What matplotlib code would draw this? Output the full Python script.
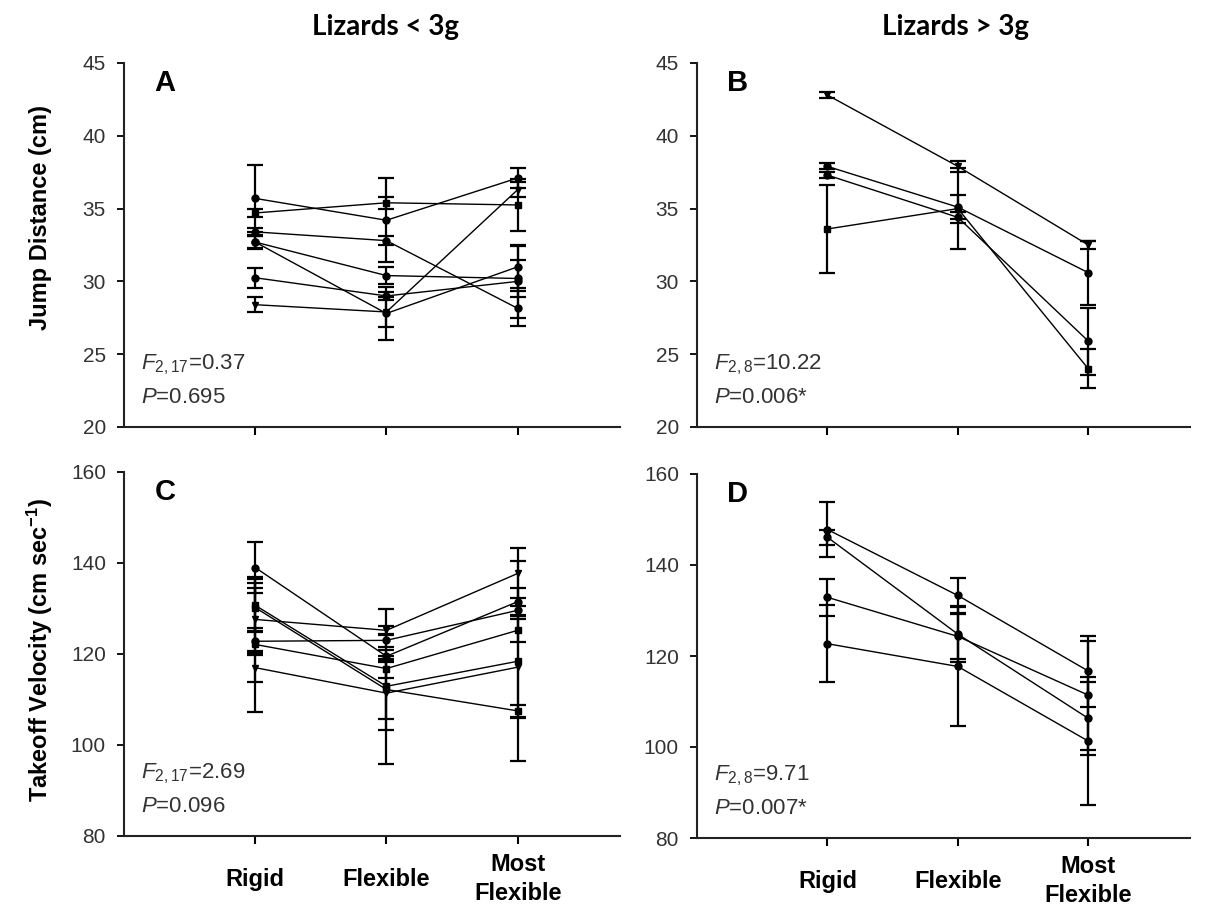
import matplotlib
matplotlib.use("Agg")
import matplotlib.pyplot as plt

plt.rcParams['font.family'] = ['Liberation Sans', 'DejaVu Sans']
plt.rcParams['mathtext.fontset'] = 'custom'
plt.rcParams['mathtext.rm'] = 'Liberation Sans'
plt.rcParams['mathtext.it'] = 'Liberation Sans:italic'
plt.rcParams['mathtext.bf'] = 'Liberation Sans:bold'

categories = ["Rigid", "Flexible", "Most\nFlexible"]
positions = [1, 2, 3]

# A: jump distance (cm), lizards < 3g  (one row per species: rigid, flexible, most flexible)
jump_small = [
    [35.7, 34.2, 37.1],
    [34.7, 35.4, 35.25],
    [33.4, 32.8, 28.15],
    [32.7, 30.4, 30.2],
    [32.7, 27.8, 31.0],
    [30.25, 29.0, 30.0],
    [28.4, 27.9, 36.3],
]
jump_small_err = [
    [2.3, 2.9, 0.7],
    [0.3, 0.4, 1.8],
    [0.3, 0.3, 1.2],
    [0.4, 0.6, 1.25],
    [0.5, 1.8, 1.45],
    [0.7, 0.3, 2.5],
    [0.5, 1.0, 0.5],
]
jump_small_markers = ['o', 's', 'o', 'o', 'o', 'o', 'v']

# B: jump distance (cm), lizards > 3g
jump_large = [
    [42.8, 37.9, 32.5],
    [37.9, 35.1, 30.6],
    [37.3, 34.4, 25.9],
    [33.6, 35.0, 24.0],
]
jump_large_err = [
    [0.2, 0.4, 0.3],
    [0.2, 0.8, 2.2],
    [0.2, 0.4, 2.3],
    [3.0, 2.8, 1.35],
]
jump_large_markers = ['v', 'o', 'o', 's']

# C: takeoff velocity (cm/s), lizards < 3g
velo_small = [
    [139.0, 119.5, 131.5],
    [130.7, 112.9, 118.4],
    [130.2, 112.2, 107.5],
    [127.6, 125.2, 137.7],
    [122.8, 123.0, 129.6],
    [122.1, 116.8, 125.2],
    [117.0, 111.4, 117.1],
]
velo_small_err = [
    [5.7, 1.3, 3.1],
    [5.7, 17.0, 22.0],
    [5.3, 6.5, 1.4],
    [7.0, 1.0, 5.5],
    [3.0, 1.5, 1.0],
    [14.8, 2.0, 2.5],
    [3.2, 8.2, 11.2],
]
velo_small_markers = ['o', 's', 's', 'v', 'o', 's', 'v']

# D: takeoff velocity (cm/s), lizards > 3g
velo_large = [
    [147.8, 133.3, 116.7],
    [146.1, 124.8, 106.3],
    [132.9, 124.3, 111.4],
    [122.7, 117.7, 101.3],
]
velo_large_err = [
    [6.0, 3.8, 7.8],
    [1.6, 6.2, 8.0],
    [4.0, 5.0, 12.0],
    [8.5, 13.0, 14.0],
]
velo_large_markers = ['o', 'o', 'o', 'o']

stats = {
    'A': (r"$\mathit{F}_{\mathrm{2,17}}$=0.37", r"$\mathit{P}$=0.695"),
    'B': (r"$\mathit{F}_{\mathrm{2,8}}$=10.22", r"$\mathit{P}$=0.006*"),
    'C': (r"$\mathit{F}_{\mathrm{2,17}}$=2.69", r"$\mathit{P}$=0.096"),
    'D': (r"$\mathit{F}_{\mathrm{2,8}}$=9.71", r"$\mathit{P}$=0.007*"),
}

W, H = 1225, 909
fig = plt.figure(figsize=(W / 100, H / 100), dpi=100)


def px_axes(left, right, top, bottom):
    return fig.add_axes([left / W, 1 - bottom / H, (right - left) / W, (bottom - top) / H])


def draw_panel(ax, values, errors, markers, ylim, yticks, letter, bottom_labels):
    for vals, errs, m in zip(values, errors, markers):
        ax.errorbar(positions, vals, yerr=errs, color='black', lw=1.0,
                    elinewidth=1.6, capsize=6, capthick=1.6,
                    marker=m, ms=5, mfc='black', mec='black')
    ax.set_xlim(0, 3.78)
    ax.set_ylim(*ylim)
    ax.set_yticks(yticks)
    ax.set_xticks(positions)
    for s in ['top', 'right']:
        ax.spines[s].set_visible(False)
    for s in ['left', 'bottom']:
        ax.spines[s].set_linewidth(1.5)
        ax.spines[s].set_color('#222222')
    ax.tick_params(axis='y', direction='out', length=5, width=1.3, pad=8,
                   labelsize=15, labelcolor='#333333')
    ax.tick_params(axis='x', direction='out', length=6, width=1.5, pad=25)
    if bottom_labels:
        ax.set_xticklabels(categories, fontsize=17, fontweight='bold',
                           va='center', linespacing=1.3)
    else:
        ax.set_xticklabels([])
    f_txt, p_txt = stats[letter]
    ax.text(0.035, 0.17, f_txt, transform=ax.transAxes, fontsize=16,
            color='#333333', ha='left', va='center')
    ax.text(0.035, 0.08, p_txt, transform=ax.transAxes, fontsize=16,
            color='#333333', ha='left', va='center')
    ax.text(0.083, 0.945, letter, transform=ax.transAxes, fontsize=21,
            fontweight='bold', ha='center', va='center')


ax_a = px_axes(124, 620, 63, 427)
ax_b = px_axes(697, 1190, 63, 427)
ax_c = px_axes(124, 620, 472, 836)
ax_d = px_axes(697, 1190, 474, 838)

draw_panel(ax_a, jump_small, jump_small_err, jump_small_markers,
           (20, 45), range(20, 46, 5), 'A', False)
draw_panel(ax_b, jump_large, jump_large_err, jump_large_markers,
           (20, 45), range(20, 46, 5), 'B', False)
draw_panel(ax_c, velo_small, velo_small_err, velo_small_markers,
           (80, 160), range(80, 161, 20), 'C', True)
draw_panel(ax_d, velo_large, velo_large_err, velo_large_markers,
           (80, 160), range(80, 161, 20), 'D', True)

# column titles
fig.text(385 / W, 1 - 27 / H, "Lizards < 3g", fontsize=20, fontweight='bold',
         family=['Lato', 'DejaVu Sans'], ha='center', va='center')
fig.text(955 / W, 1 - 27 / H, "Lizards > 3g", fontsize=20, fontweight='bold',
         family=['Lato', 'DejaVu Sans'], ha='center', va='center')

# y labels
fig.text(40 / W, 1 - 218 / H, "Jump Distance (cm)", fontsize=17,
         fontweight='bold', rotation=90, ha='center', va='center')
fig.text(40 / W, 1 - 650 / H, r"Takeoff Velocity (cm sec$^{\mathbf{-1}}$)",
         fontsize=17, fontweight='bold', rotation=90, ha='center', va='center')

fig.savefig("out.png", dpi=100)
